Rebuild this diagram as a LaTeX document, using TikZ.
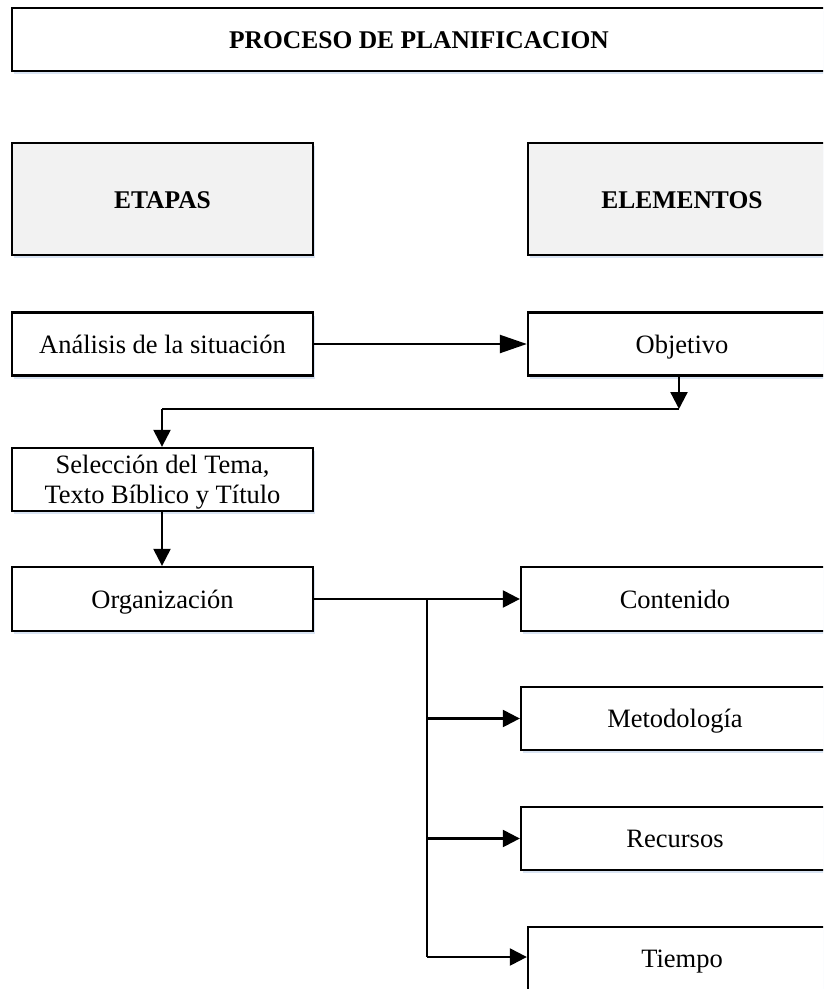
\documentclass[tikz,border=0pt]{standalone}
\usepackage{fontspec}
\setmainfont{Liberation Serif}
\usetikzlibrary{arrows.meta,shadows}
\definecolor{boxgray}{HTML}{F2F2F2}
\definecolor{shadowblue}{HTML}{C9D9EE}
\begin{document}
\begin{tikzpicture}[x=1pt,y=-1pt,
  box/.style={draw=black, line width=2.3pt, fill=white, inner sep=0pt, align=center,
    font=\fontsize{26.5}{30}\selectfont, text height=24pt, text depth=6pt,
    drop shadow={shadow xshift=1.5pt, shadow yshift=-3pt, fill=shadowblue, opacity=0.7}},
  headbox/.style={box, fill=boxgray, font=\fontsize{25.5}{30}\selectfont\bfseries},
  conn/.style={line width=2.3pt},
  arr/.style={conn, -{Triangle[length=17pt,width=17pt]}},
  bigarr/.style={conn, -{Triangle[length=27pt,width=18pt]}}]
\useasboundingbox (0,0) rectangle (823,989);
\clip (0,0) rectangle (823,989);
\fill[white] (0,0) rectangle (823,989);

\node[box, font=\fontsize{25.5}{30}\selectfont\bfseries, minimum width=814pt, minimum height=63pt] (title) at (419,39.5) {PROCESO DE PLANIFICACION};

\node[headbox, minimum width=301pt, minimum height=112pt] (etapas) at (162.5,199) {ETAPAS};
\node[headbox, minimum width=308pt, minimum height=112pt] (elem) at (682,199) {ELEMENTOS};

\node[box, minimum width=301pt, minimum height=63pt] (ana) at (162.5,344) {Análisis de la situación};
\node[box, minimum width=308pt, minimum height=63pt] (obj) at (682,344) {Objetivo};
\node[box, minimum width=301pt, minimum height=63pt, text height=47pt, text depth=0pt] (sel) at (162.5,479.5) {Selección del Tema,\\Texto Bíblico y Título};
\node[box, minimum width=301pt, minimum height=64pt] (org) at (162.5,599) {Organización};
\node[box, minimum width=308pt, minimum height=64pt] (con) at (675,599) {Contenido};
\node[box, minimum width=308pt, minimum height=63pt] (met) at (675,718.5) {Metodología};
\node[box, minimum width=308pt, minimum height=63pt] (rec) at (675,838.5) {Recursos};
\node[box, minimum width=308pt, minimum height=63pt] (tie) at (682,958.5) {Tiempo};

\coordinate (j1) at (679,409);
\coordinate (j2) at (162,409);
\coordinate (b0) at (427,599);
\coordinate (b3) at (427,957);

\draw[bigarr] (ana) -- (obj);
\draw[arr] (j1 |- obj.south) -- (j1);
\draw[conn] (j1) -- (j2);
\draw[arr] (j2) -- (j2 |- sel.north);
\draw[arr] (j2 |- sel.south) -- (j2 |- org.north);
\draw[arr] (org) -- (con);
\draw[conn] (b0) -- (b3);
\draw[arr] (b0 |- met.west) -- (met.west);
\draw[arr] (b0 |- rec.west) -- (rec.west);
\draw[arr] (b3) -- (b3 -| tie.west);
\end{tikzpicture}
\end{document}
